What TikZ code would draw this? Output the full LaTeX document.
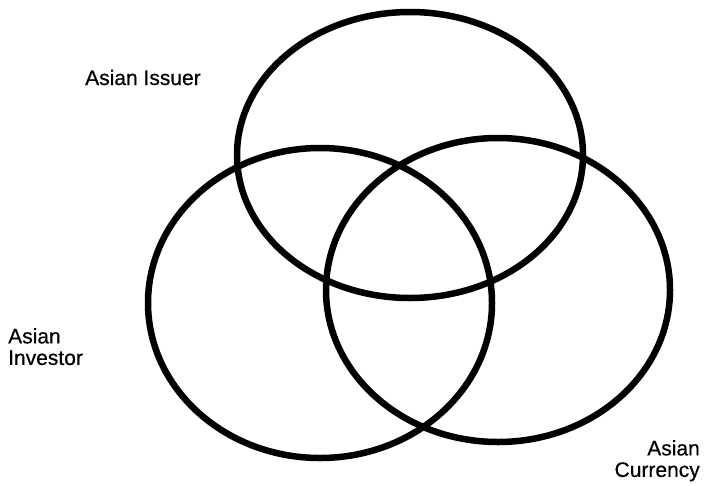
\documentclass[tikz,border=0pt]{standalone}
\usepackage{fontspec}
\setmainfont[BoldFont={Liberation Sans},BoldFeatures={FakeBold=0.5}]{Liberation Sans}
\usetikzlibrary{positioning,shapes.geometric}

\begin{document}
\begin{tikzpicture}[
  x=1pt, y=-1pt,
  font=\fontsize{21}{21.5}\selectfont\bfseries,
  ring/.style={draw=black, ellipse, line width=6.5pt, inner sep=0pt},
  setlabel/.style={inner sep=0pt, text=black}
]
\useasboundingbox (0,0) rectangle (711,485);

% ========== Sets ==========
\node[ring, minimum width=346pt, minimum height=286pt] (issuer) at (410,155) {};
\node[ring, minimum width=344pt, minimum height=310pt] (investor) at (320,303) {};
\node[ring, minimum width=344pt, minimum height=304pt] (currency) at (498,290) {};

% ========== Labels ==========
\node[setlabel, anchor=base west] (lissuer) at (85,85) {Asian Issuer};
\node[setlabel, anchor=north west, align=left] (linvestor) at (8,328) {Asian\\Investor};
\node[setlabel, anchor=north east, align=right] (lcurrency) at (700,440) {Asian\\Currency};

\end{tikzpicture}
\end{document}
